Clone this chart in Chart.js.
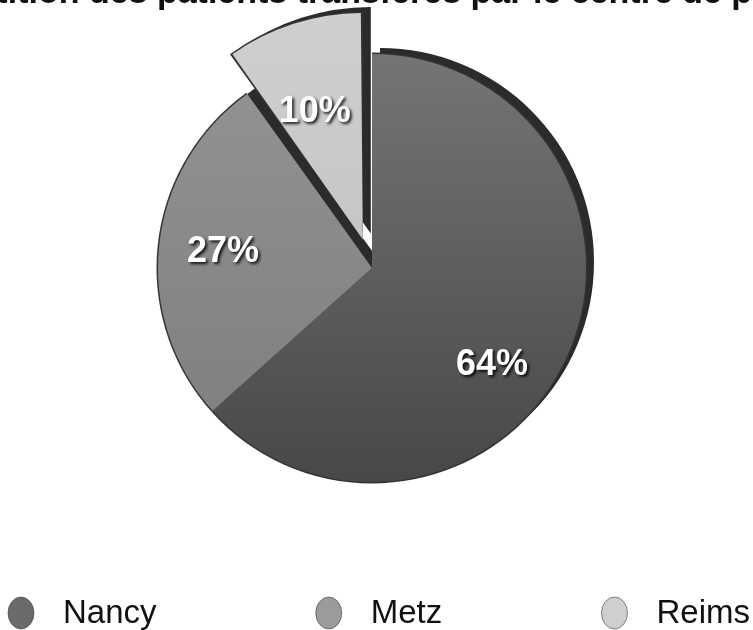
<!DOCTYPE html>
<html>
<head>
<meta charset="utf-8">
<script src="https://cdn.jsdelivr.net/npm/chart.js@4/dist/chart.umd.min.js"></script>
<style>
  html, body { margin: 0; padding: 0; background: #ffffff; }
  #wrap { position: relative; width: 753px; height: 630px; }
</style>
</head>
<body>
<div id="wrap"><canvas id="c" width="753" height="630"></canvas></div>
<script>
// ---- data ----
const titleText = "Répartition des patients transférés par le centre de provenance";
const categories = ["Nancy", "Metz", "Reims"];
const values = [64, 27, 10];
const percentLabels = ["64%", "27%", "10%"];

// ---- style ----
const faceTop = ["#787878", "#959595", "#d0d0d0"];
const faceBottom = ["#444444", "#7b7b7b", "#bcbcbc"];
const legendColors = ["#6b6b6b", "#9b9b9b", "#cfcfcf"];
const sliceOffsets = [0, 0, 120];
const labelAngleFrac = [0.565, 0.5, 0.42];
const labelRadiusFrac = [0.72, 0.7, 0.6];
const FONT = '"Liberation Sans", Arial, Helvetica, sans-serif';

function faceGradient(context) {
  const chart = context.chart;
  const area = chart.chartArea;
  const i = context.dataIndex;
  if (!area) return faceBottom[i];
  const g = chart.ctx.createLinearGradient(0, area.top, 0, area.bottom);
  g.addColorStop(0, faceTop[i]);
  g.addColorStop(1, faceBottom[i]);
  return g;
}

function arcGeom(el) {
  const off = (el.options.offset || 0) / 4;
  const half = (el.startAngle + el.endAngle) / 2;
  const circ = el.endAngle - el.startAngle;
  const fix = 1 - Math.sin(Math.min(Math.PI, circ));
  return {
    cx: el.x + Math.cos(half) * off,
    cy: el.y + Math.sin(half) * off,
    r: el.outerRadius + off * fix
  };
}

const depthPlugin = {
  id: 'depth',
  beforeDatasetsDraw(chart) {
    const ctx = chart.ctx;
    const meta = chart.getDatasetMeta(0);
    ctx.save();
    meta.data.forEach((el) => {
      const g = arcGeom(el);
      // extruded side
      ctx.fillStyle = '#2b2b2b';
      ctx.beginPath();
      ctx.moveTo(g.cx + 8, g.cy - 6);
      ctx.arc(g.cx + 8, g.cy - 6, g.r, el.startAngle, el.endAngle);
      ctx.closePath();
      ctx.fill();
      // outline
      ctx.fillStyle = '#333333';
      ctx.beginPath();
      ctx.moveTo(g.cx, g.cy);
      ctx.arc(g.cx, g.cy, g.r + 1.5, el.startAngle, el.endAngle);
      ctx.closePath();
      ctx.fill();
    });
    ctx.restore();
  }
};

const labelPlugin = {
  id: 'pctLabels',
  afterDatasetsDraw(chart) {
    const ctx = chart.ctx;
    const meta = chart.getDatasetMeta(0);
    ctx.save();
    ctx.font = 'bold 36px ' + FONT;
    ctx.textAlign = 'center';
    ctx.textBaseline = 'middle';
    meta.data.forEach((el, i) => {
      const g = arcGeom(el);
      const a = el.startAngle + (el.endAngle - el.startAngle) * labelAngleFrac[i];
      const x = g.cx + Math.cos(a) * g.r * labelRadiusFrac[i];
      const y = g.cy + Math.sin(a) * g.r * labelRadiusFrac[i];
      ctx.shadowColor = 'rgba(0,0,0,0.85)';
      ctx.shadowOffsetX = 2;
      ctx.shadowOffsetY = 2;
      ctx.shadowBlur = 3;
      ctx.fillStyle = '#ffffff';
      ctx.fillText(percentLabels[i], x, y);
    });
    ctx.restore();
  }
};

const titleLegendPlugin = {
  id: 'titleLegend',
  afterDraw(chart) {
    const ctx = chart.ctx;
    const W = chart.width;
    ctx.save();
    // title (cut off at the top edge, as in the reference)
    ctx.font = 'bold 34px ' + FONT;
    ctx.fillStyle = '#111111';
    ctx.textAlign = 'left';
    ctx.textBaseline = 'alphabetic';
    ctx.fillText(titleText, -100, 3);

    // legend spread across the width
    ctx.font = '33px ' + FONT;
    ctx.textBaseline = 'middle';
    const rx = 13, ry = 16, gap = 29;
    const widths = categories.map(c => rx * 2 + gap + ctx.measureText(c).width);
    const left = 8, right = W - 3;
    const total = widths.reduce((s, w) => s + w, 0);
    const space = (right - left - total) / (categories.length - 1);
    let x = left;
    const cy = 613;
    categories.forEach((c, i) => {
      ctx.fillStyle = legendColors[i];
      ctx.strokeStyle = 'rgba(60,60,60,0.6)';
      ctx.lineWidth = 1;
      ctx.beginPath();
      ctx.ellipse(x + rx, cy, rx, ry, 0, 0, Math.PI * 2);
      ctx.fill();
      ctx.stroke();
      ctx.fillStyle = '#111111';
      ctx.fillText(c, x + rx * 2 + gap, cy + 1);
      x += widths[i] + space;
    });
    ctx.restore();
  }
};

new Chart(document.getElementById('c'), {
  type: 'pie',
  data: {
    labels: categories,
    datasets: [{
      data: values,
      backgroundColor: faceGradient,
      borderWidth: 0,
      offset: sliceOffsets
    }]
  },
  options: {
    responsive: false,
    animation: false,
    radius: 214,
    layout: { padding: { top: 20, bottom: 114, left: 0, right: 9 } },
    plugins: {
      legend: { display: false },
      title: { display: false },
      tooltip: { enabled: false }
    }
  },
  plugins: [depthPlugin, labelPlugin, titleLegendPlugin]
});
</script>
</body>
</html>
